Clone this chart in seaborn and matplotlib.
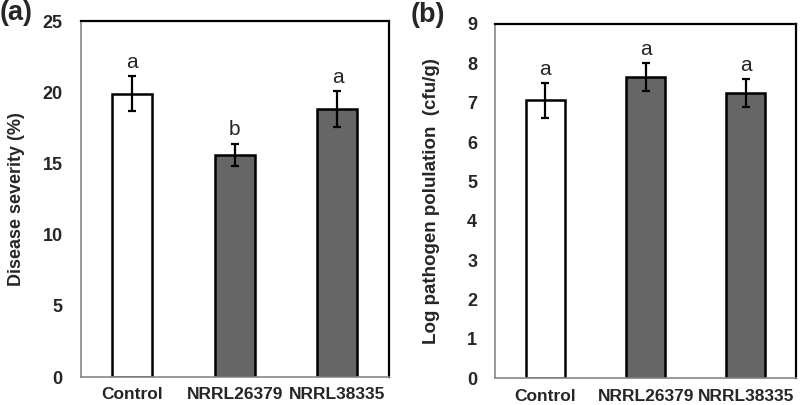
import matplotlib
matplotlib.use('Agg')
import matplotlib.pyplot as plt
import seaborn as sns
import numpy as np

sns.set_style('white')
plt.rcParams['font.family'] = ['Liberation Sans', 'DejaVu Sans']

# Datos
categories = ['Control', 'NRRL26379', 'NRRL38335']
severity = [19.9, 15.6, 18.8]
severity_err = [1.25, 0.8, 1.27]
severity_letters = ['a', 'b', 'a']
population = [7.06, 7.65, 7.24]
population_err = [0.45, 0.36, 0.35]
population_letters = ['a', 'a', 'a']
bar_colors = ['#ffffff', '#666666', '#666666']

fig = plt.figure(figsize=(8, 4.05), dpi=100)
ax1 = fig.add_axes([0.101, 0.069, 0.385, 0.879])
ax2 = fig.add_axes([0.619, 0.066, 0.376, 0.875])


def draw_panel(ax, values, errs, letters, ymax, yticks, ylabel, letter_pad, label_size):
    sns.barplot(x=categories, y=values, hue=categories, palette=bar_colors,
                legend=False, edgecolor='black', linewidth=1.8, width=0.39,
                saturation=1, ax=ax)
    xs = np.arange(len(categories))
    ax.errorbar(xs, values, yerr=errs, fmt='none', ecolor='black',
                elinewidth=1.6, capsize=3, capthick=1.6)
    for x, v, e, t in zip(xs, values, errs, letters):
        ax.text(x, v + e + letter_pad, t, ha='center', va='bottom', fontsize=15)
    ax.set_xlim(-0.5, 2.5)
    ax.set_ylim(0, ymax)
    ax.set_yticks(yticks)
    ax.set_xticks(xs)
    ax.set_xticks([-0.5, 0.5, 1.5, 2.5], minor=True)
    ax.tick_params(axis='x', which='major', length=0, pad=7.5, labelsize=12.5)
    ax.tick_params(axis='x', which='minor', length=5, color='#888888', width=1)
    ax.tick_params(axis='y', length=4.5, color='#888888', width=1, labelsize=13, pad=8.5)
    for lbl in ax.get_xticklabels() + ax.get_yticklabels():
        lbl.set_fontweight('bold')
    ax.set_ylabel(ylabel, fontsize=label_size, fontweight='bold')
    ax.yaxis.set_label_coords(-0.182, 0.5)
    ax.set_xlabel('')
    for side in ['top', 'right']:
        ax.spines[side].set_color('black')
        ax.spines[side].set_linewidth(1.6)
    for side in ['left', 'bottom']:
        ax.spines[side].set_color('#888888')
        ax.spines[side].set_linewidth(1.2)


draw_panel(ax1, severity, severity_err, severity_letters, 25,
           [0, 5, 10, 15, 20, 25], 'Disease severity (%)', 0.3, 13)
draw_panel(ax2, population, population_err, population_letters, 9,
           range(0, 10), 'Log pathogen polulation  (cfu/g)', 0.1, 13.5)

fig.text(0.0, 1.0, '(a)', fontsize=19.5, fontweight='bold', va='top', ha='left')
fig.text(0.513, 0.995, '(b)', fontsize=19.5, fontweight='bold', va='top', ha='left')

fig.savefig('out.png', dpi=100)
